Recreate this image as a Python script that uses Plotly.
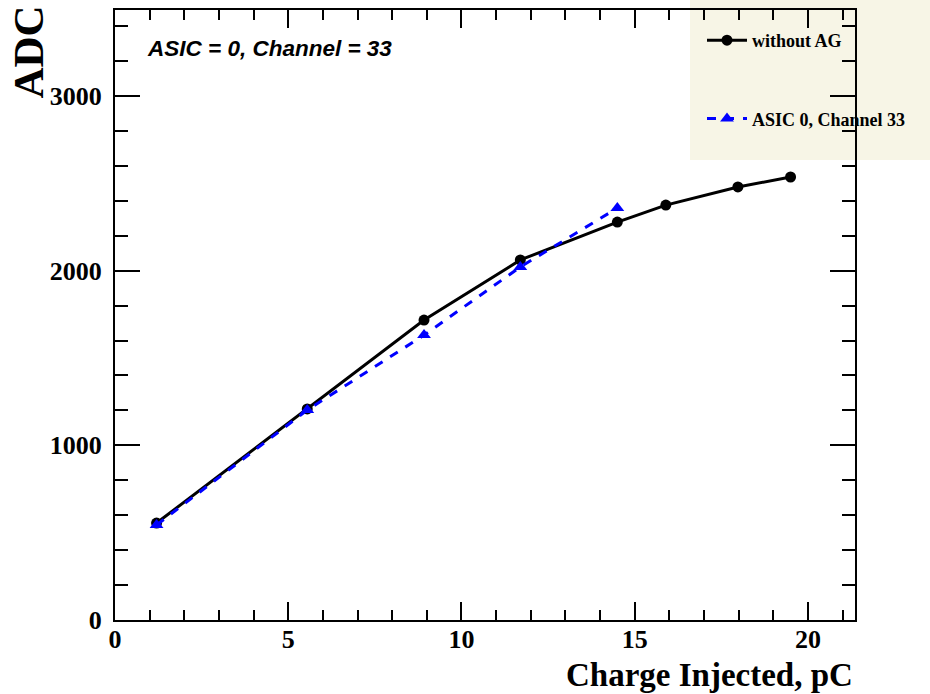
import plotly.graph_objects as go

charge_black = [1.2, 5.55, 8.92, 11.7, 14.5, 15.9, 17.98, 19.5]
adc_black = [555, 1208, 1717, 2061, 2278, 2375, 2479, 2536]

charge_blue = [1.2, 5.55, 8.92, 11.7, 14.5]
adc_blue = [544, 1202, 1631, 2021, 2358]

serif = "Liberation Serif, Times New Roman, serif"
sans = "Liberation Sans, Arial, sans-serif"

L, R, T, B = 115, 855, 10, 620
PW, PH = R - L, B - T


def px(xp):
    return (xp - L) / PW


def py(yp):
    return (B - yp) / PH


fig = go.Figure()
fig.add_trace(go.Scatter(
    x=charge_black, y=adc_black, mode="lines+markers", name="without AG",
    line=dict(color="black", width=3),
    marker=dict(symbol="circle", size=11, color="black"),
    legendgroup="a",
))
fig.add_trace(go.Scatter(
    x=charge_blue, y=adc_blue, mode="lines+markers", name="ASIC 0, Channel 33",
    line=dict(color="#0000ff", width=3, dash="dash"),
    marker=dict(symbol="triangle-up", size=12, color="#0000ff"),
    legendgroup="b",
))

axis_common = dict(
    showgrid=False, zeroline=False, showline=True, linecolor="black", linewidth=2,
    mirror="ticks", ticks="inside", tickcolor="black", tickwidth=2,
    tickfont=dict(family=serif, size=26, color="black", weight="bold"),
)

fig.update_xaxes(range=[0, 21.36], dtick=5, tick0=0, ticklen=18, ticklabelstandoff=-5,
                 minor=dict(dtick=1, ticklen=10, tickcolor="black", ticks="inside", tickwidth=1.5),
                 **axis_common)
fig.update_yaxes(range=[0, 3492], dtick=1000, tick0=0, ticklen=25, ticklabelstandoff=6,
                 minor=dict(dtick=200, ticklen=13, tickcolor="black", ticks="inside", tickwidth=1.5),
                 **axis_common)

fig.add_shape(type="rect", xref="paper", yref="paper",
              x0=px(690), x1=px(930), y0=py(160), y1=py(0),
              fillcolor="rgba(238,232,200,0.45)", line=dict(width=0), layer="below")

fig.add_annotation(text="<b><i>ASIC = 0, Channel = 33</i></b>", xref="paper", yref="paper",
                   x=px(145), y=py(48), xanchor="left", yanchor="middle",
                   showarrow=False, font=dict(family=sans, size=22.5, color="black"))
fig.add_annotation(text="<b>ADC</b>", xref="paper", yref="paper",
                   x=px(28), y=py(4), xanchor="center", yanchor="top", textangle=-90,
                   showarrow=False, font=dict(family=serif, size=43, color="black"))
fig.add_annotation(text="<b>Charge Injected, pC</b>", xref="paper", yref="paper",
                   x=1.0, y=py(675), xanchor="right", yanchor="middle",
                   showarrow=False, font=dict(family=serif, size=33, color="black"))

fig.update_layout(
    width=930, height=694,
    margin=dict(l=L, r=930 - R, t=T, b=694 - B, autoexpand=False),
    plot_bgcolor="white", paper_bgcolor="white",
    showlegend=True,
    legend=dict(
        x=px(702), y=py(22), xanchor="left", yanchor="top",
        bgcolor="rgba(0,0,0,0)", borderwidth=0,
        font=dict(family=serif, size=18, color="black", weight="bold"),
        traceorder="grouped", tracegroupgap=52,
        itemwidth=40,
    ),
)

fig.write_html("out.html")
